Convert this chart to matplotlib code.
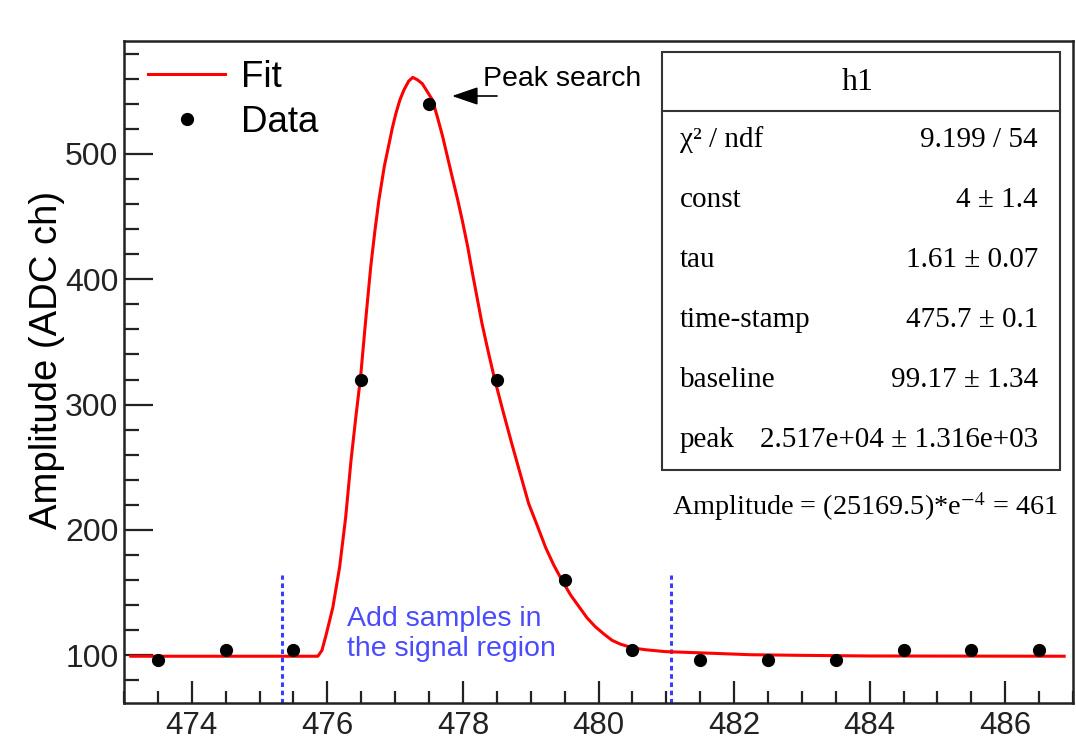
import matplotlib
matplotlib.use("Agg")
import matplotlib.pyplot as plt
from matplotlib.patches import Rectangle
from matplotlib.lines import Line2D
from matplotlib.ticker import MultipleLocator

plt.rcParams["font.family"] = ["Liberation Sans", "DejaVu Sans"]
plt.rcParams["mathtext.fontset"] = "stix"

# samples
data_x = [473.5, 474.5, 475.5, 476.5, 477.5, 478.5, 479.5, 480.5, 481.5, 482.5, 483.5, 484.5, 485.5, 486.5]
data_y = [96, 104, 104, 320, 540, 320, 160, 104, 96, 96, 96, 104, 104, 104]

# fit curve
fit_x = [473.1, 475.86, 475.92, 475.98, 476.08, 476.18, 476.27, 476.35, 476.42, 476.49,
         476.57, 476.64, 476.70, 476.76, 476.84, 476.91, 476.96, 477.01, 477.07, 477.13,
         477.20, 477.26, 477.33, 477.40, 477.47, 477.55, 477.62, 477.70, 477.77, 477.84,
         477.92, 477.99, 478.07, 478.14, 478.21, 478.28, 478.37, 478.46, 478.59, 478.72,
         478.85, 478.97, 479.10, 479.22, 479.34, 479.46, 479.59, 479.71, 479.83, 479.95,
         480.08, 480.20, 480.32, 480.44, 480.56, 480.69, 480.98, 481.5, 482.25, 483.0,
         484.0, 486.87]
fit_y = [99.3, 99.3, 104, 116, 138, 170, 210, 256, 290, 322,
         370, 410, 438, 463, 490, 508, 521, 532, 543, 551,
         558, 561, 559, 556, 550, 543, 530, 514, 498, 482,
         464, 447, 426, 405, 385, 365, 343, 322, 295, 269,
         244, 221, 203, 186, 172, 160, 148, 139, 130, 123,
         117, 112, 109, 107, 105.5, 104.5, 103, 102, 100.5, 100,
         99.5, 99.3]

# signal region limits
region_x = [475.33, 481.07]
region_top = 164

stat_names = ["χ² / ndf", "const", "tau", "time-stamp", "baseline", "peak"]
stat_values = ["9.199 / 54", "4 ± 1.4", "1.61 ± 0.07", "475.7 ± 0.1", "99.17 ± 1.34",
               "2.517e+04 ± 1.316e+03"]

W, H = 1076, 740


def fx(x):
    return x / W


def fy(y):
    return 1 - y / H


fig = plt.figure(figsize=(W / 100, H / 100), dpi=100)
ax = fig.add_axes([fx(124), fy(703), (1073 - 124) / W, (703 - 41) / H])

ax.plot(fit_x, fit_y, color="#ff0000", linewidth=2.2, zorder=3)
ax.plot(data_x, data_y, "o", color="black", markersize=8.5, zorder=4)
ax.vlines(region_x, 62, region_top, colors="#3c3cff", linestyles=(0, (1.5, 1.2)), linewidth=2.2)

ax.set_xlim(473, 487)
ax.set_ylim(62, 590)
ax.xaxis.set_major_locator(MultipleLocator(2))
ax.xaxis.set_minor_locator(MultipleLocator(0.5))
ax.yaxis.set_major_locator(MultipleLocator(100))
ax.yaxis.set_minor_locator(MultipleLocator(20))
ax.tick_params(which="both", direction="in", top=False, right=False, width=1.6, colors="#222222")
ax.tick_params(axis="x", which="major", length=16, labelsize=22.5, pad=6)
ax.tick_params(axis="x", which="minor", length=8.5)
ax.tick_params(axis="y", which="major", length=21, labelsize=23, pad=4)
ax.tick_params(axis="y", which="minor", length=11)
for s in ax.spines.values():
    s.set_linewidth(1.8)
    s.set_color("#222222")

ax.set_ylabel("Amplitude (ADC ch)", fontsize=27.5)
ax.yaxis.set_label_coords(-0.062, 0.518)

# legend
handles = [Line2D([], [], color="#ff0000", linewidth=2.2),
           Line2D([], [], marker="o", color="black", linestyle="none", markersize=8.5)]
ax.legend(handles, ["Fit", "Data"], loc="upper left", bbox_to_anchor=(fx(148), fy(60)),
          bbox_transform=fig.transFigure, frameon=False, fontsize=26.5, handlelength=2.1,
          handletextpad=0.42, labelspacing=0.28, borderpad=0, borderaxespad=0)

# peak search arrow
ax.annotate("", xy=(fx(452), fy(96)), xytext=(fx(497), fy(96)), xycoords="figure fraction",
            textcoords="figure fraction",
            arrowprops=dict(arrowstyle="-|>,head_length=1.6,head_width=0.55", color="black",
                            linewidth=1.2, shrinkA=0, shrinkB=0))
fig.text(fx(483), fy(79), "Peak search", fontsize=20.5, ha="left", va="center")

fig.text(fx(347), fy(634), "Add samples in\nthe signal region", fontsize=20.5, color="#4a4aff",
         ha="left", va="center", linespacing=1.22)

# stats box
serif = ["Liberation Serif", "DejaVu Serif"]
box = Rectangle((fx(662), fy(470)), (1060 - 662) / W, (470 - 52) / H, transform=fig.transFigure,
                facecolor="white", edgecolor="#333333", linewidth=1.5, zorder=5)
fig.add_artist(box)
fig.add_artist(Line2D([fx(662), fx(1060)], [fy(111), fy(111)], transform=fig.transFigure,
                      color="#333333", linewidth=1.5, zorder=6))
fig.text(fx(858), fy(83), "h1", family=serif, fontsize=23, ha="center", va="center", zorder=7)
row_y = [140, 200, 260, 320, 380, 440]
for name, val, y in zip(stat_names, stat_values, row_y):
    fig.text(fx(680), fy(y), name, family=serif, fontsize=21, ha="left", va="center", zorder=7)
    fig.text(fx(1038), fy(y), val, family=serif, fontsize=21, ha="right", va="center", zorder=7)

fig.text(fx(1058), fy(507), "Amplitude = (25169.5)*e$^{-4}$ = 461", family=serif, fontsize=20.3,
         ha="right", va="center")

fig.savefig("out.png", dpi=100)
